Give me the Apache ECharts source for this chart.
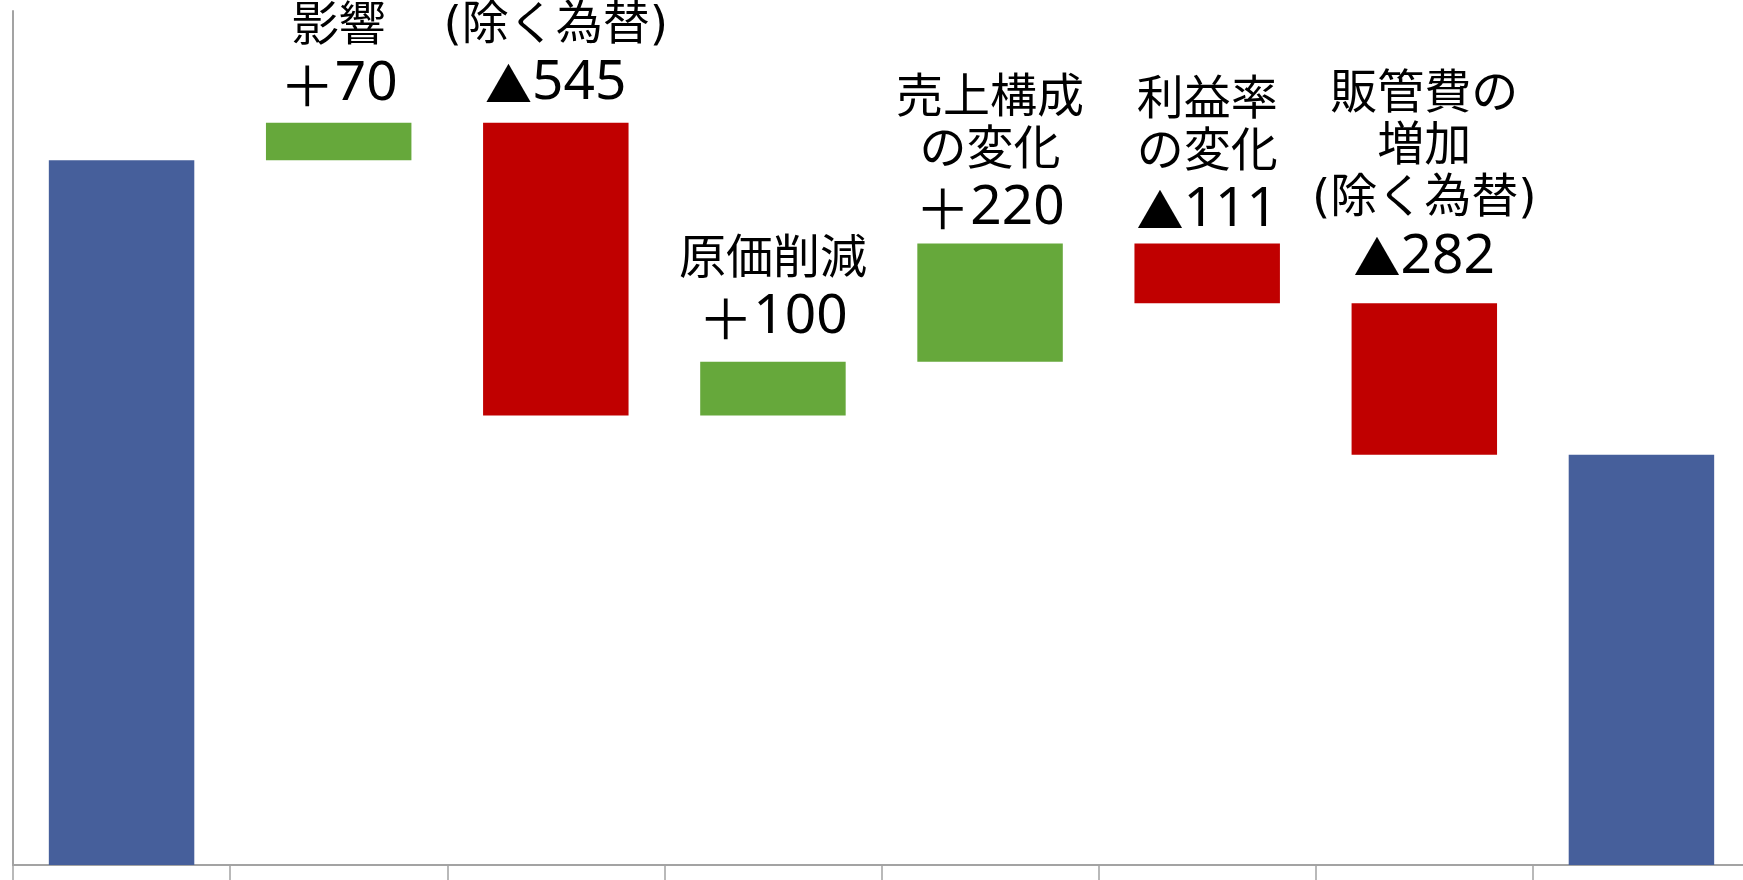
<!DOCTYPE html>
<html>
<head>
<meta charset="utf-8">
<title>営業利益 増減要因</title>
<script src="https://cdn.jsdelivr.net/npm/echarts@6/dist/echarts.min.js"></script>
<style>
  html, body { margin: 0; padding: 0; background: #fff; }
  #chart { width: 1743px; height: 880px; }
</style>
</head>
<body>
<div id="chart"></div>
<script>
  // categories (axis labels are below the visible area)
  var categories = ['前期', '為替影響', '売価(除く為替)', '原価削減', '売上構成の変化', '利益率の変化', '販管費の増加(除く為替)', '当期'];
  // first and last totals
  var startValue = 1312;
  var endValue = 764;
  // changes between them
  var deltas = [70, -545, 100, 220, -111, -282];
  // visible label text above each change bar
  var deltaNames = ['影響', '(除く為替)', '原価削減', '売上構成\nの変化', '利益率\nの変化', '販管費の\n増加\n(除く為替)'];
  // gap between each label and its bar (text boxes sit a bit unevenly in the original)
  var labelGaps = [7, 8, 13, 4, 2, 15];

  var colors = {
    total: '#465F9B',
    up: '#66A83B',
    down: '#C00000'
  };

  function fmtDelta(v) {
    var sign = v > 0 ? '{p|＋}' : '{t|▲}';
    return sign + '{v|' + Math.abs(v) + '}';
  }

  function nameRich(name) {
    return name.split('\n').map(function(s) { return '{n|' + s + '}'; }).join('\n');
  }

  // build stacked waterfall: transparent base + visible part
  var baseData = [0];
  var barData = [{ value: startValue, itemStyle: { color: colors.total } }];
  var running = startValue;
  deltas.forEach(function(d, i) {
    var next = running + d;
    baseData.push(Math.min(running, next));
    barData.push({
      value: Math.abs(d),
      itemStyle: { color: d > 0 ? colors.up : colors.down },
      label: {
        show: true,
        distance: labelGaps[i],
        formatter: nameRich(deltaNames[i]) + '\n' + fmtDelta(d)
      }
    });
    running = next;
  });
  baseData.push(0);
  barData.push({ value: endValue, itemStyle: { color: colors.total } });

  var chart = echarts.init(document.getElementById('chart'));
  var axisColor = '#a3a3a3';
  var cjk = "'Noto Sans CJK JP', sans-serif";

  var option = {
    animation: false,
    grid: {
      left: 13, width: 1737, top: 11, bottom: 15,
      containLabel: false,
      outerBoundsMode: 'none'
    },
    xAxis: {
      type: 'category',
      data: categories,
      axisLine: { lineStyle: { color: axisColor, width: 2 } },
      axisTick: { show: true, length: 20, lineStyle: { color: axisColor, width: 1.5 } },
      axisLabel: { show: false }
    },
    yAxis: {
      type: 'value',
      min: 0,
      max: 1590,
      axisLine: { show: true, lineStyle: { color: axisColor, width: 2 } },
      axisTick: { show: false },
      axisLabel: { show: false },
      splitLine: { show: false }
    },
    series: [
      {
        type: 'bar',
        stack: 'wf',
        silent: true,
        itemStyle: { color: 'transparent' },
        data: baseData,
        barCategoryGap: '33%'
      },
      {
        type: 'bar',
        stack: 'wf',
        data: barData,
        barCategoryGap: '33%',
        label: {
          show: false,
          position: 'top',
          color: '#000',
          rich: {
            n: { fontSize: 47, lineHeight: 52, color: '#000', fontFamily: "'DejaVu Sans', " + cjk },
            p: { fontSize: 55, lineHeight: 62, color: '#000', fontFamily: cjk },
            t: { fontSize: 47, lineHeight: 62, color: '#000', fontFamily: cjk },
            v: { fontSize: 55, lineHeight: 62, color: '#000', fontFamily: "'Noto Sans', " + cjk }
          }
        }
      }
    ]
  };

  chart.setOption(option);
</script>
</body>
</html>
